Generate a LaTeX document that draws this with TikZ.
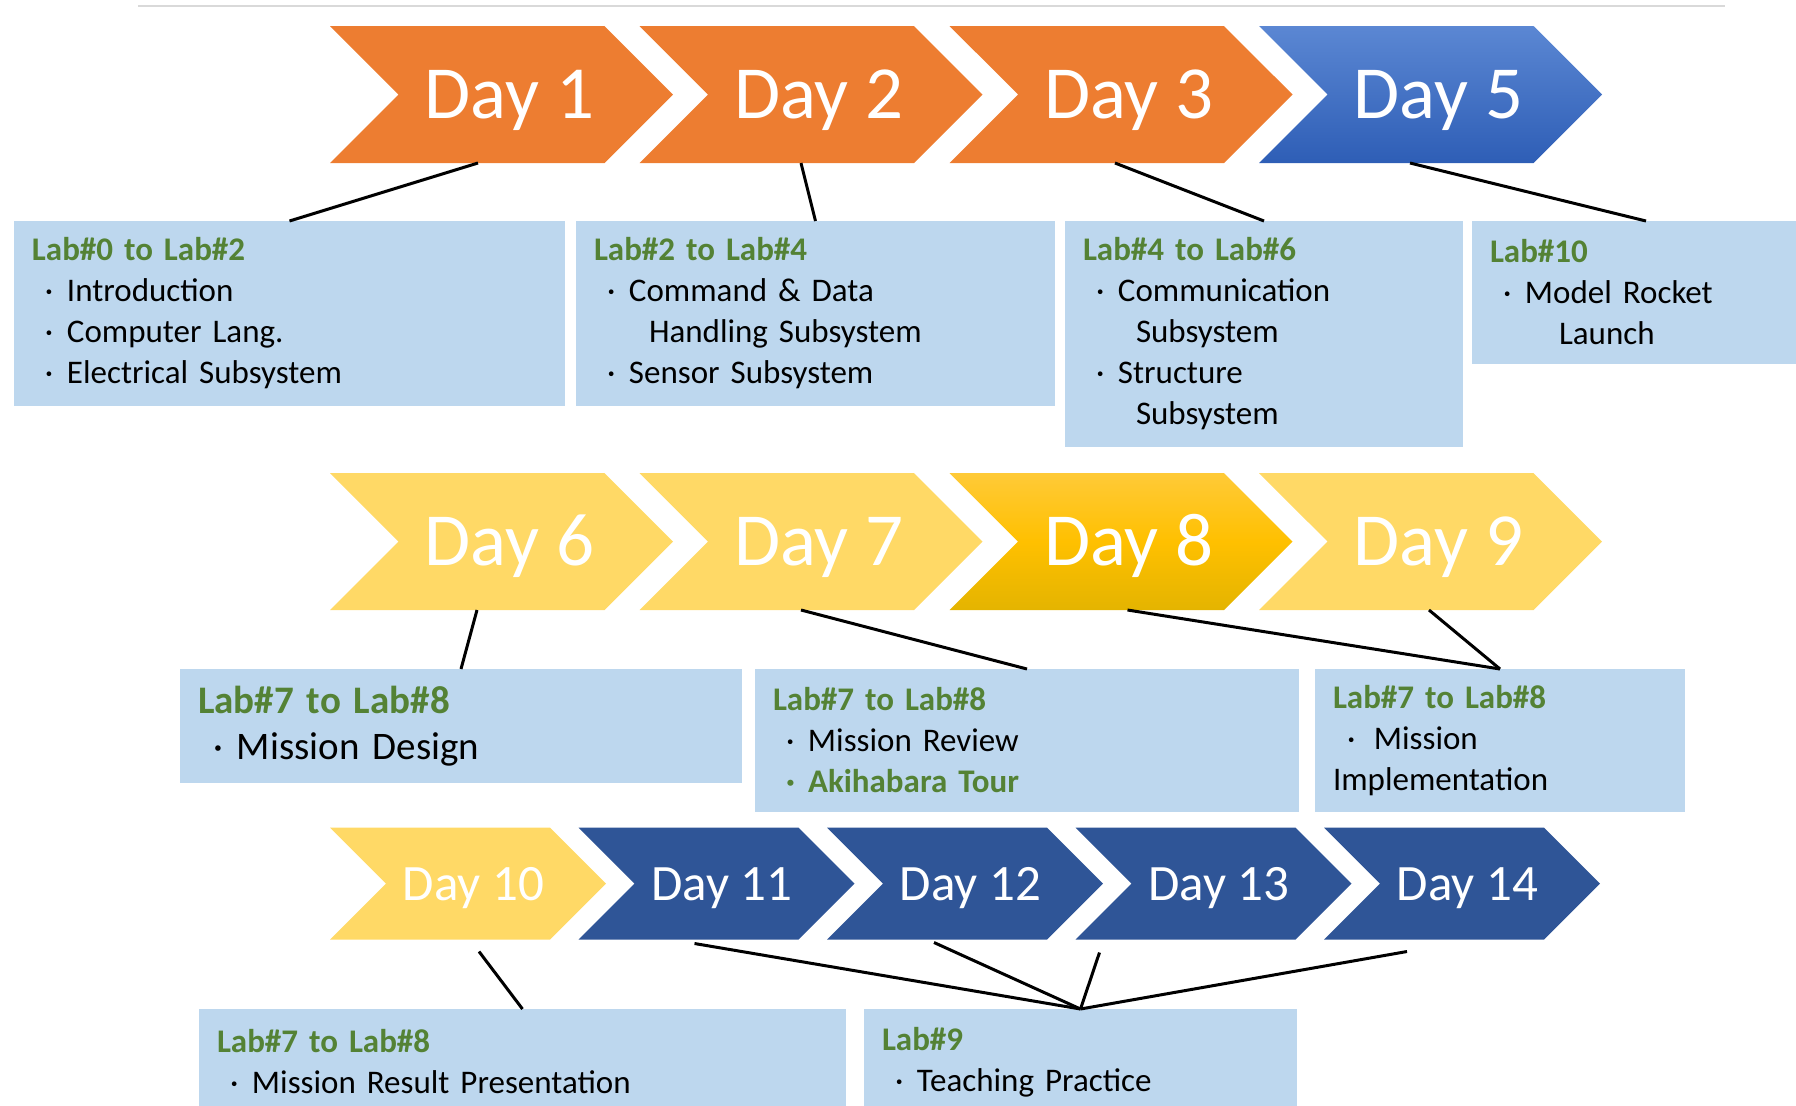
\documentclass[tikz,border=0pt]{standalone}
\usepackage{fontspec}
\setmainfont{Carlito}
\usepackage{tikz}
\usetikzlibrary{shapes.symbols,positioning}

\definecolor{dayorange}{HTML}{ED7D31}
\definecolor{daygold}{HTML}{FFD966}
\definecolor{daynavy}{HTML}{2F5597}
\definecolor{bluetop}{HTML}{5B87D3}
\definecolor{bluebot}{HTML}{2E5EB6}
\definecolor{goldtop}{HTML}{FFCA38}
\definecolor{goldmid}{HTML}{FFC000}
\definecolor{goldbot}{HTML}{E4B400}
\definecolor{labblue}{HTML}{BDD7EE}
\definecolor{labgreen}{HTML}{548235}
\definecolor{rulegray}{HTML}{D9D9D9}

\newcommand{\labhead}[1]{{\bfseries\color{labgreen}#1}}
\newcommand{\itm}{\hspace*{6.5pt}\makebox[11pt][l]{·}}

\begin{document}
\begin{tikzpicture}[x=0.5pt,y=0.5pt,
  chev/.style={signal, signal from=west, signal to=east, signal pointer angle=90,
    inner sep=0pt, outer sep=0pt, text=white, text depth=0pt},
  day/.style={chev, text height=24pt, execute at begin node=\hspace*{8pt},
    minimum width=171.5pt, minimum height=68.5pt, font=\fontsize{37.5}{37.5}\selectfont},
  smallday/.style={chev, text height=16.5pt, execute at begin node=\hspace*{5.5pt},
    minimum width=138pt, minimum height=56pt, font=\fontsize{25.5}{25.5}\selectfont},
  lab/.style={rectangle, fill=labblue, anchor=north west, inner xsep=9pt, inner ysep=0pt,
    outer sep=0pt, align=left, font=\fontsize{16.5}{20.5}\selectfont},
  link/.style={line width=1.5pt}]
\useasboundingbox (0,0) rectangle (1796,-1105);
\clip (0,0) rectangle (1796,-1105);

\draw[rulegray, line width=1pt] (138,-6) -- (1725,-6);

% first week
\node[day, fill=dayorange] (d1) at (501.5,-94.5) {Day 1};
\node[day, fill=dayorange] (d2) at (811,-94.5) {Day 2};
\node[day, fill=dayorange] (d3) at (1121,-94.5) {Day 3};
\node[day, top color=bluetop, bottom color=bluebot] (d5) at (1430.5,-94.5) {Day 5};

\node[lab, text width=257.5pt, minimum height=92.5pt] (b1) at (14,-221)
  {\labhead{Lab\#0 to Lab\#2}\\ \itm Introduction\\ \itm Computer Lang.\\ \itm Electrical Subsystem};
\node[lab, text width=221.5pt, minimum height=92.5pt] (b2) at (576,-221)
  {\labhead{Lab\#2 to Lab\#4}\\ \itm Command \& Data\\ \hspace*{27.5pt}Handling Subsystem\\ \itm Sensor Subsystem};
\node[lab, text width=181pt, minimum height=113pt] (b3) at (1065,-221)
  {\labhead{Lab\#4 to Lab\#6}\\ \itm Communication\\ \hspace*{26.5pt}Subsystem\\ \itm Structure\\ \hspace*{26.5pt}Subsystem};
\node[lab, text width=156pt, minimum height=71.5pt] (b4) at (1472,-221)
  {\labhead{Lab\#10}\\ \itm Model Rocket\\ \hspace*{34.5pt}Launch};

\draw[link] ([shift={(-23.5,0)}]d1.south) -- (b1.north);
\draw[link] ([shift={(-10,0)}]d2.south) -- (b2.north);
\draw[link] ([shift={(-6,0)}]d3.south) -- (b3.north);
\draw[link] ([shift={(-20.5,0)}]d5.south) -- (b4.north);

% second week
\node[day, fill=daygold] (d6) at (501.5,-541.5) {Day 6};
\node[day, fill=daygold] (d7) at (811,-541.5) {Day 7};
\node[day, top color=goldtop, bottom color=goldbot, middle color=goldmid] (d8) at (1121,-541.5) {Day 8};
\node[day, fill=daygold] (d9) at (1430.5,-541.5) {Day 9};

\node[lab, text width=263pt, minimum height=57pt, font=\fontsize{19.5}{23}\selectfont] (b6) at (180,-669)
  {\labhead{Lab\#7 to Lab\#8}\\ \hspace*{7.5pt}\makebox[12pt][l]{·}Mission Design};
\node[lab, text width=254pt, minimum height=71.5pt] (b7) at (755,-669)
  {\labhead{Lab\#7 to Lab\#8}\\ \itm Mission Review\\ \labhead{\itm Akihabara Tour}};
\node[lab, text width=167pt, minimum height=71.5pt] (b9) at (1315,-669)
  {\labhead{Lab\#7 to Lab\#8}\\ \hspace*{7pt}\makebox[13.5pt][l]{·}Mission\\ Implementation};

\draw[link] ([shift={(-24.5,0)}]d6.south) -- (b6.north);
\draw[link] ([shift={(-10,0)}]d7.south) -- (b7.north);
\draw[link] ([shift={(6.5,0)}]d8.south) -- (b9.north);
\draw[link] ([shift={(-1.5,0)}]d9.south) -- (b9.north);

% third week
\node[smallday, fill=daygold] (d10) at (468,-883.5) {Day 10};
\node[smallday, fill=daynavy] (d11) at (716.5,-883.5) {Day 11};
\node[smallday, fill=daynavy] (d12) at (965,-883.5) {Day 12};
\node[smallday, fill=daynavy] (d13) at (1213.5,-883.5) {Day 13};
\node[smallday, fill=daynavy] (d14) at (1462,-883.5) {Day 14};

\node[lab, text width=305.5pt, minimum height=53pt] (b10) at (199,-1009)
  {\labhead{Lab\#7 to Lab\#8}\\ \itm Mission Result Presentation};
\node[lab, text width=198.5pt, minimum height=53pt] (b11) at (864,-1009)
  {\labhead{Lab\#9}\\ \itm Teaching Practice};

\draw[link] ([shift={(11,-12)}]d10.south) -- (b10.north);
\draw[link] ([shift={(-22,-4)}]d11.south) -- (b11.north);
\draw[link] ([shift={(-31,-3)}]d12.south) -- (b11.north);
\draw[link] ([shift={(-114,-13)}]d13.south) -- (b11.north);
\draw[link] ([shift={(-55,-12)}]d14.south) -- (b11.north);
\end{tikzpicture}
\end{document}
